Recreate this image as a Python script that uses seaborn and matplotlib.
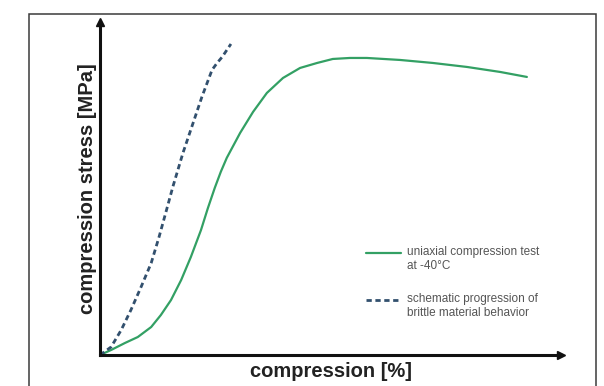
import matplotlib
matplotlib.use("Agg")
import matplotlib.pyplot as plt
import seaborn as sns
import pandas as pd
from matplotlib.patches import Rectangle
from matplotlib.legend_handler import HandlerLine2D

sns.set_style("white")
plt.rcParams["font.family"] = ["Liberation Sans", "DejaVu Sans"]

# measured compression test at -40 °C (arbitrary units, % of axis length)
test_strain = [0, 2.4, 5.4, 8.2, 11.1, 13.2, 15.4, 17.6, 19.7, 21.9, 23.4,
               24.9, 26.2, 27.5, 30.4, 33.2, 36.2, 39.7, 43.4, 47.1, 50.5, 54.2,
               57.9, 65.1, 72.2, 79.6, 86.8, 92.6]
test_stress = [0, 1.5, 3.6, 5.4, 8.4, 12.0, 16.5, 22.5, 29.4, 37.5, 44.1,
               50.2, 55.0, 59.2, 66.7, 73.0, 78.7, 83.2, 86.2, 87.7, 88.9, 89.2,
               89.2, 88.6, 87.7, 86.5, 85.0, 83.5]

# schematic brittle behaviour
brittle_strain = [0, 2.4, 4.6, 6.7, 8.9, 11.1, 12.8, 14.3, 15.8, 18.0, 20.2,
                  22.1, 24.3, 25.4, 26.5, 28.4]
brittle_stress = [0, 2.4, 7.5, 13.5, 20.4, 27.6, 35.4, 42.9, 50.5, 60.7, 69.7,
                  77.5, 85.6, 87.7, 89.5, 93.4]

labels = ["uniaxial compression test\nat -40°C",
          "schematic progression of\nbrittle material behavior"]

test_df = pd.DataFrame({"strain": test_strain, "stress": test_stress})
brittle_df = pd.DataFrame({"strain": brittle_strain, "stress": brittle_stress})


class FirstLineHandler(HandlerLine2D):
    """Legend line aligned with the first row of a two-line label."""

    def create_artists(self, legend, orig_handle, xdescent, ydescent,
                       width, height, fontsize, trans):
        artists = super().create_artists(legend, orig_handle, xdescent, ydescent,
                                         width, height, fontsize, trans)
        for a in artists:
            a.set_ydata([v + 0.55 * fontsize for v in a.get_ydata()])
        return artists


W, H = 604, 386
fig = plt.figure(figsize=(W / 100, H / 100), dpi=100)
ax = fig.add_axes([100 / W, (H - 355) / H, (561 - 100) / W, (355 - 22) / H])

# outer frame
fig.patches.append(Rectangle((29 / W, -0.1), (596 - 29) / W, (H - 14) / H + 0.1,
                             transform=fig.transFigure, fill=False,
                             edgecolor="#3a3a3a", linewidth=1.1))

sns.lineplot(data=test_df, x="strain", y="stress", ax=ax, color="#33a064",
             linewidth=1.6, sort=False, label=labels[0])
sns.lineplot(data=brittle_df, x="strain", y="stress", ax=ax, color="#32506e",
             linewidth=2.0, sort=False, label=labels[1])
ax.lines[0].set_solid_joinstyle("round")
ax.lines[1].set_dashes([1.9, 1.3])

ax.set_xlim(0, 100)
ax.set_ylim(0, 100)
ax.set_xticks([])
ax.set_yticks([])
for s in ["top", "right"]:
    ax.spines[s].set_visible(False)
for s in ["left", "bottom"]:
    ax.spines[s].set_linewidth(2.2)
    ax.spines[s].set_color("#111111")

# arrow heads on the axes
ax.plot(1, 0, ">", color="#111111", markersize=6, transform=ax.transAxes, clip_on=False)
ax.plot(0, 1, "^", color="#111111", markersize=6, transform=ax.transAxes, clip_on=False)

ax.set_xlabel("compression [%]", fontsize=14.5, fontweight="bold", color="#222222",
              labelpad=5)
ax.set_ylabel("compression stress [MPa]", fontsize=14.5, fontweight="bold",
              color="#222222", labelpad=2)

leg = ax.legend(loc="upper left", bbox_to_anchor=(366 / W, (H - 246) / H),
                bbox_transform=fig.transFigure, frameon=False, fontsize=8.5,
                labelcolor="#555555", handlelength=3.0, handletextpad=0.45,
                labelspacing=1.8, borderpad=0, borderaxespad=0,
                handler_map={ln: FirstLineHandler() for ln in ax.lines[:2]})

fig.savefig("out.png", dpi=100)
